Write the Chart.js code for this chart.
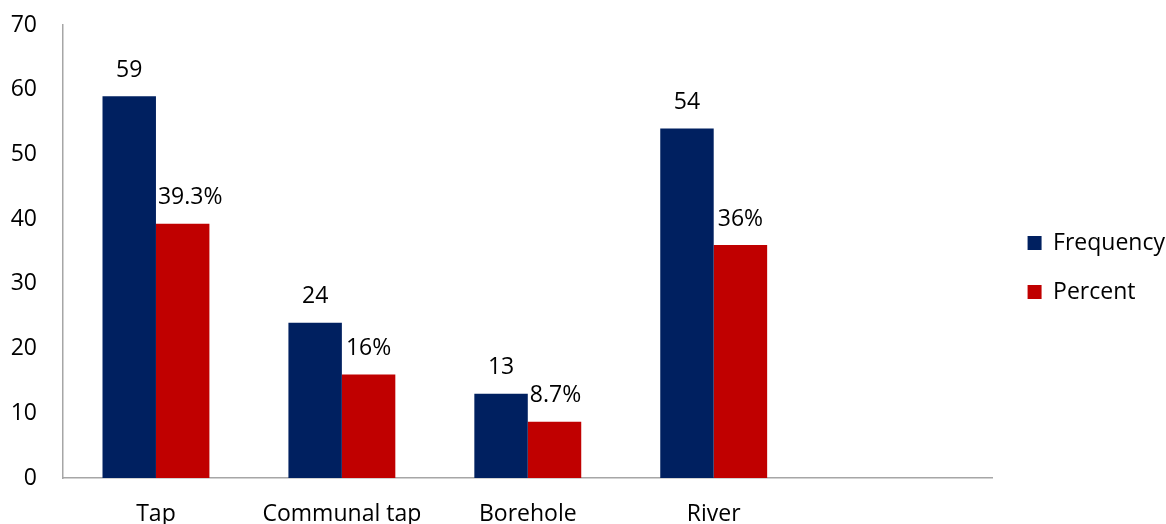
<!DOCTYPE html>
<html>
<head>
<meta charset="utf-8">
<script src="https://cdn.jsdelivr.net/npm/chart.js@4/dist/chart.umd.min.js"></script>
<style>
  html, body { margin: 0; padding: 0; background: #ffffff; }
  #wrap { width: 1166px; height: 524px; position: relative; }
</style>
</head>
<body>
<div id="wrap"><canvas id="c"></canvas></div>
<script>
const categories = ['Tap', 'Communal tap', 'Borehole', 'River', ''];
const frequencyValues = [59, 24, 13, 54, null];
const percentValues = [39.3, 16, 8.7, 36, null];
const frequencyLabels = ['59', '24', '13', '54', ''];
const percentLabels = ['39.3%', '16%', '8.7%', '36%', ''];
const yTicks = [0, 10, 20, 30, 40, 50, 60, 70];

const FONT = "'Open Sans', 'Noto Sans', sans-serif";
const FSIZE = 23;
const labelSets = [frequencyLabels, percentLabels];

const dataLabelPlugin = {
  id: 'dataLabels',
  afterDatasetsDraw(chart) {
    const ctx = chart.ctx;
    ctx.save();
    ctx.font = FSIZE + 'px ' + FONT;
    ctx.fillStyle = '#000000';
    ctx.textAlign = 'center';
    ctx.textBaseline = 'middle';
    chart.data.datasets.forEach((ds, di) => {
      const meta = chart.getDatasetMeta(di);
      meta.data.forEach((el, i) => {
        const txt = labelSets[di][i];
        if (!txt || ds.data[i] == null) return;
        const w = ctx.measureText(txt).width;
        const left = el.x - el.width / 2;
        let x = el.x;
        if (di === 1) x = Math.max(el.x, left + w / 2 + 2);
        ctx.fillText(txt, x, el.y - 26);
      });
    });
    ctx.restore();
  }
};

const legendShift = {
  id: 'legendShift',
  afterLayout(chart) {
    const lg = chart.legend;
    if (!lg) return;
    lg.left += 9; lg.right += 9;
    lg.top -= 7; lg.bottom -= 7;
  }
};

function noPad(scale) {
  scale.paddingTop = 0; scale.paddingBottom = 0;
  scale.paddingLeft = 0; scale.paddingRight = 0;
}

new Chart(document.getElementById('c'), {
  type: 'bar',
  data: {
    labels: categories,
    datasets: [
      { label: 'Frequency', data: frequencyValues, backgroundColor: '#002060', borderWidth: 0 },
      { label: 'Percent', data: percentValues, backgroundColor: '#C00000', borderWidth: 0 }
    ]
  },
  options: {
    responsive: true,
    maintainAspectRatio: false,
    animation: false,
    devicePixelRatio: 1,
    layout: { padding: { top: 25, left: 0, right: 0, bottom: 0 } },
    datasets: { bar: { barPercentage: 1.0, categoryPercentage: 0.575 } },
    plugins: {
      legend: {
        position: 'right',
        labels: {
          boxWidth: 14, boxHeight: 14, padding: 26,
          color: '#000000',
          font: { family: FONT, size: FSIZE }
        }
      },
      tooltip: { enabled: false }
    },
    scales: {
      x: {
        grid: { display: false, drawTicks: false },
        border: { display: true, color: '#a6a6a6', width: 1.5 },
        ticks: { color: '#000000', font: { family: FONT, size: FSIZE }, padding: 23, maxRotation: 0, autoSkip: false },
        afterFit(scale) { scale.height = 46; noPad(scale); }
      },
      y: {
        min: 0, max: 70,
        afterBuildTicks(scale) { scale.ticks = yTicks.map(v => ({ value: v })); },
        grid: { display: false, drawTicks: false },
        border: { display: true, color: '#a6a6a6', width: 1.5 },
        ticks: { color: '#000000', font: { family: FONT, size: FSIZE }, padding: 26 },
        afterFit(scale) { scale.width = 63; noPad(scale); }
      }
    }
  },
  plugins: [dataLabelPlugin, legendShift]
});
</script>
</body>
</html>
